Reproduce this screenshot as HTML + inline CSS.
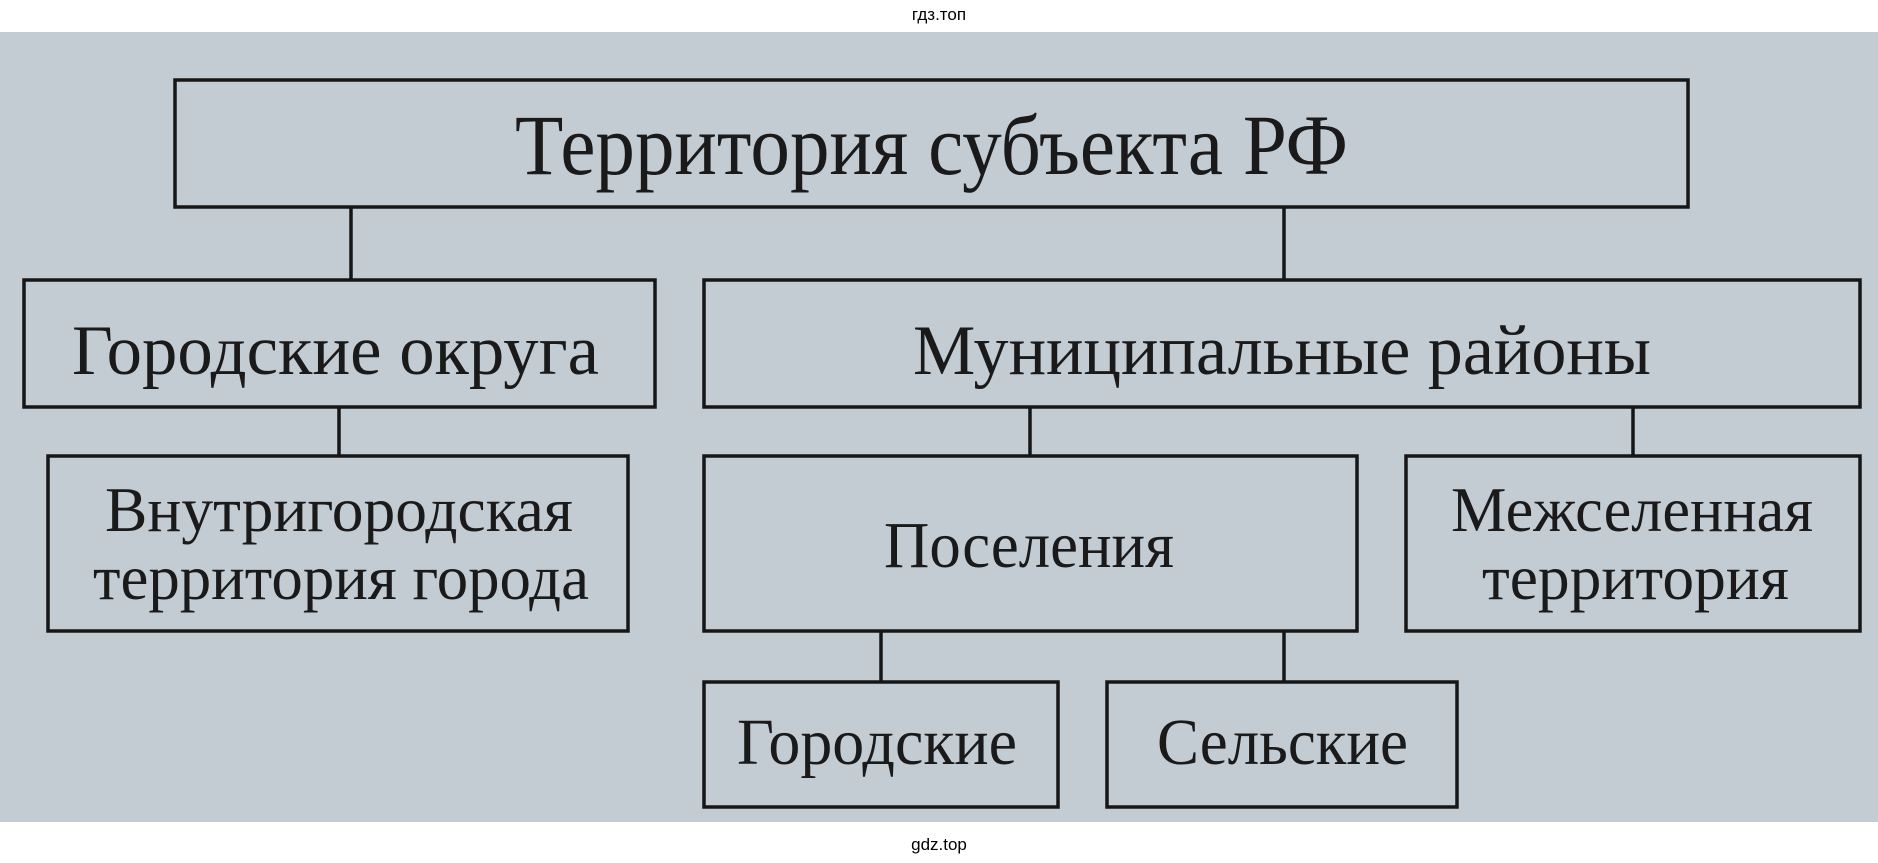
<!DOCTYPE html>
<html><head><meta charset="utf-8"><style>
html,body{margin:0;padding:0;background:#fff;}
svg{display:block;}
</style></head><body>
<svg width="1878" height="863" viewBox="0 0 1878 863" xmlns="http://www.w3.org/2000/svg">
<text x="939" y="20" font-family="Liberation Sans, sans-serif" font-size="17" text-anchor="middle" fill="#000">гдз.топ</text>
<rect x="0" y="32" width="1878" height="790" fill="#c3cbd3"/>
<text x="939" y="850" font-family="Liberation Sans, sans-serif" font-size="17" text-anchor="middle" fill="#000">gdz.top</text>
<g fill="none" stroke="#161616" stroke-width="3.5">
<rect x="175" y="80" width="1513" height="127"/>
<rect x="24" y="280" width="631" height="127"/>
<rect x="704" y="280" width="1156" height="127"/>
<rect x="48" y="456" width="580" height="175"/>
<rect x="704" y="456" width="653" height="175"/>
<rect x="1406" y="456" width="454" height="175"/>
<rect x="704" y="682" width="354" height="125"/>
<rect x="1107" y="682" width="350" height="125"/>
<line x1="351" y1="207" x2="351" y2="280"/>
<line x1="1284" y1="207" x2="1284" y2="280"/>
<line x1="339" y1="407" x2="339" y2="456"/>
<line x1="1030" y1="407" x2="1030" y2="456"/>
<line x1="1633" y1="407" x2="1633" y2="456"/>
<line x1="881" y1="631" x2="881" y2="682"/>
<line x1="1284" y1="631" x2="1284" y2="682"/>
</g>
<g font-family="Liberation Serif, serif" fill="#1a1a1a">
<text x="515" y="174" font-size="86" textLength="833" lengthAdjust="spacingAndGlyphs">Территория субъекта РФ</text>
<text x="72" y="374" font-size="71" textLength="527" lengthAdjust="spacingAndGlyphs">Городские округа</text>
<text x="913" y="374" font-size="71" textLength="738" lengthAdjust="spacingAndGlyphs">Муниципальные  районы</text>
<text x="105" y="531" font-size="64" textLength="468" lengthAdjust="spacingAndGlyphs">Внутригородская</text>
<text x="93" y="599" font-size="64" textLength="496" lengthAdjust="spacingAndGlyphs">территория города</text>
<text x="884" y="567" font-size="66" textLength="290" lengthAdjust="spacingAndGlyphs">Поселения</text>
<text x="1451" y="531" font-size="64" textLength="362" lengthAdjust="spacingAndGlyphs">Межселенная</text>
<text x="1482" y="599" font-size="64" textLength="307" lengthAdjust="spacingAndGlyphs">территория</text>
<text x="737" y="764" font-size="66" textLength="280" lengthAdjust="spacingAndGlyphs">Городские</text>
<text x="1157" y="764" font-size="66" textLength="251" lengthAdjust="spacingAndGlyphs">Сельские</text>
</g>
</svg>
</body></html>
